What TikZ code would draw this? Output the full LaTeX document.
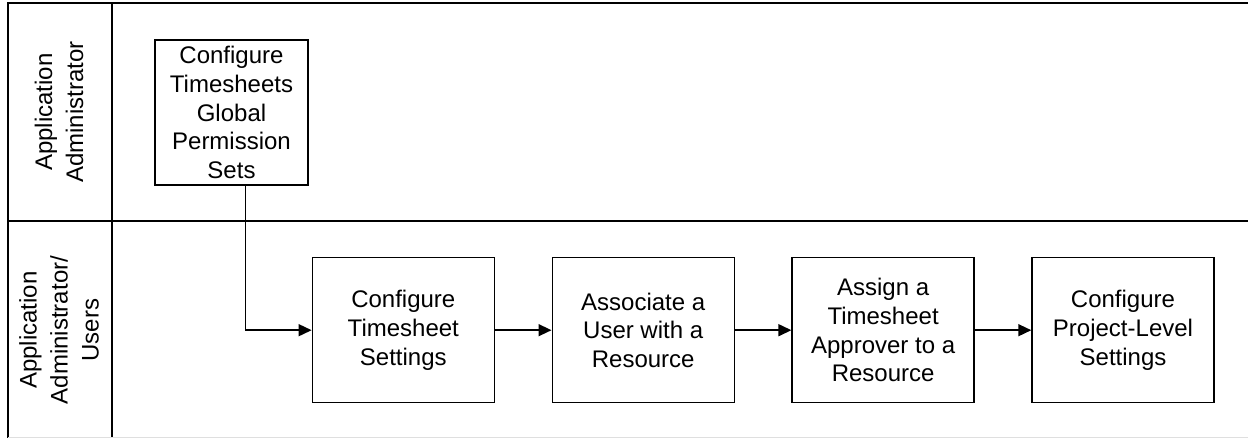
\documentclass[tikz,border=0pt]{standalone}
\usepackage{fontspec}
\setmainfont{Liberation Sans}
\usetikzlibrary{positioning,arrows.meta}
\tikzset{
    step-box/.style = {draw, line width=0.7pt, rectangle, align=center, minimum width=91pt, minimum height=72.5pt, inner sep=0pt, font=\fontsize{12}{14.3}\selectfont},
    lane-label/.style = {rotate=90, align=center, inner sep=0pt, font=\fontsize{12}{15.5}\selectfont},
    lane-line/.style = {line width=0.75pt},
    flow/.style = {line width=0.75pt, -{Triangle[length=6.5pt,width=6pt]}},
}

\begin{document}
\begin{tikzpicture}[x=0.5pt,y=0.5pt]
\useasboundingbox (0,0) rectangle (1248,-438);
% swimlanes
\draw[lane-line] (1248,-3) -- (8,-3) -- (8,-438);
\draw[lane-line] (112,-3) -- (112,-438);
\draw[lane-line] (8,-221) -- (1248,-221);
\draw[gray!25, line width=0.6pt] (8,-437.5) -- (1248,-437.5);
\node[lane-label] (lane-admin) at (59,-112) {Application\\Administrator};
\node[lane-label] (lane-users) at (59,-330) {Application\\Administrator/\\Users};
% steps
\node[step-box, minimum width=76.5pt] (global) at (231.5,-112.5) {Configure\\Timesheets\\Global\\Permission\\Sets};
\node[step-box] (settings) at (403.3,-330.2) {Configure\\Timesheet\\Settings};
\node[step-box, right=28.25pt of settings] (associate) {Associate a\\User with a\\Resource};
\node[step-box, right=28.25pt of associate] (approver) {Assign a\\Timesheet\\Approver to a\\Resource};
\node[step-box, right=28.25pt of approver] (project) {Configure\\Project-Level\\Settings};
% connectors
\draw[flow] ([xshift=7pt]global.south) |- (settings);
\draw[flow] (settings) -- (associate);
\draw[flow] (associate) -- (approver);
\draw[flow] (approver) -- (project);
\end{tikzpicture}
\end{document}
